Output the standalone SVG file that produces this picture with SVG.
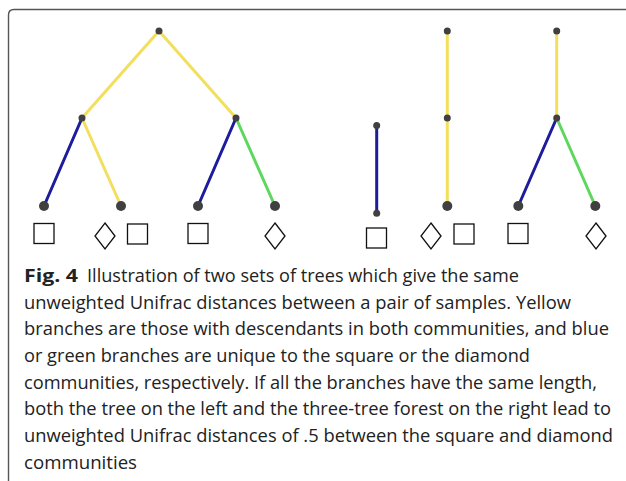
<svg xmlns="http://www.w3.org/2000/svg" width="626" height="481" viewBox="0 0 626 481">
<style>
.frame{fill:none;stroke:#555;stroke-width:1.4}
.y{stroke:#f2df5e;stroke-width:3;stroke-linecap:round}
.b{stroke:#1c1c9c;stroke-width:3;stroke-linecap:round}
.g{stroke:#5cd85c;stroke-width:3;stroke-linecap:round}
.n{fill:#404040}
.sq,.dm{fill:#fff;stroke:#111;stroke-width:1.3}
.cap{font-family:"Open Sans","Noto Sans","Liberation Sans",sans-serif;font-size:18px;fill:#222}
.bold{font-weight:bold}
</style>
<rect width="626" height="481" fill="#fff"/>
<path class="frame" d="M8.5,481 V15 Q8.5,9.5 14,9.5 H626"/>
<g id="connectors">
<line class="y" x1="159" y1="31" x2="82" y2="118"/>
<line class="y" x1="159" y1="31" x2="236" y2="118"/>
<line class="b" x1="82" y1="118" x2="44" y2="206"/>
<line class="y" x1="82" y1="118" x2="121" y2="206"/>
<line class="b" x1="236" y1="118" x2="198" y2="206"/>
<line class="g" x1="236" y1="118" x2="275" y2="206"/>
<line class="b" x1="376.7" y1="125.5" x2="376.7" y2="213.3"/>
<line class="y" x1="447.3" y1="31" x2="447.3" y2="118"/>
<line class="y" x1="447.3" y1="118" x2="447.3" y2="206"/>
<line class="y" x1="556.7" y1="31" x2="556.7" y2="118"/>
<line class="b" x1="556.7" y1="118" x2="518.3" y2="206"/>
<line class="g" x1="556.7" y1="118" x2="595.3" y2="206"/>
</g>
<g id="tree1-root"><circle class="n" cx="159" cy="31" r="3.5"/></g>
<g id="tree1-left"><circle class="n" cx="82" cy="118" r="3.5"/></g>
<g id="tree1-right"><circle class="n" cx="236" cy="118" r="3.5"/></g>
<g id="leaf1"><circle class="n" cx="44" cy="206" r="5"/><rect class="sq" x="34" y="223.5" width="20" height="20"/></g>
<g id="leaf2"><circle class="n" cx="121" cy="206" r="5"/><path class="dm" d="M105,223 L115,236 L105,249 L95,236 Z"/><rect class="sq" x="127.5" y="224" width="20" height="20"/></g>
<g id="leaf3"><circle class="n" cx="198" cy="206" r="5"/><rect class="sq" x="188" y="223.5" width="20" height="20"/></g>
<g id="leaf4"><circle class="n" cx="275" cy="206" r="5"/><path class="dm" d="M275,223 L285,236 L275,249 L265,236 Z"/></g>
<g id="tree2-top"><circle class="n" cx="376.7" cy="125.5" r="3.5"/></g>
<g id="tree2-leaf"><circle class="n" cx="376.7" cy="213.3" r="3.5"/><rect class="sq" x="366.5" y="228" width="20" height="20"/></g>
<g id="tree3-top"><circle class="n" cx="447.3" cy="31" r="3.5"/></g>
<g id="tree3-mid"><circle class="n" cx="447.3" cy="118" r="3.5"/></g>
<g id="tree3-leaf"><circle class="n" cx="447.3" cy="206" r="5"/><path class="dm" d="M431,223 L441,236 L431,249 L421,236 Z"/><rect class="sq" x="454" y="224" width="20" height="20"/></g>
<g id="tree4-top"><circle class="n" cx="556.7" cy="31" r="3.5"/></g>
<g id="tree4-mid"><circle class="n" cx="556.7" cy="118" r="3.5"/></g>
<g id="tree4-leafL"><circle class="n" cx="518.3" cy="206" r="5"/><rect class="sq" x="508" y="223.5" width="20" height="20"/></g>
<g id="tree4-leafR"><circle class="n" cx="595.3" cy="206" r="5"/><path class="dm" d="M596,223 L606,236 L596,249 L586,236 Z"/></g>
<g id="caption" class="cap">
<text x="24" y="282" class="bold" textLength="54" lengthAdjust="spacingAndGlyphs">Fig. 4</text>
<text x="87" y="282" textLength="432" lengthAdjust="spacingAndGlyphs">Illustration of two sets of trees which give the same</text>
<text x="24" y="308.6" textLength="547" lengthAdjust="spacingAndGlyphs">unweighted Unifrac distances between a pair of samples. Yellow</text>
<text x="24" y="335.3" textLength="585" lengthAdjust="spacingAndGlyphs">branches are those with descendants in both communities, and blue</text>
<text x="24" y="362" textLength="506" lengthAdjust="spacingAndGlyphs">or green branches are unique to the square or the diamond</text>
<text x="24" y="388.6" textLength="573" lengthAdjust="spacingAndGlyphs">communities, respectively. If all the branches have the same length,</text>
<text x="24" y="415.3" textLength="587" lengthAdjust="spacingAndGlyphs">both the tree on the left and the three-tree forest on the right lead to</text>
<text x="24" y="442" textLength="589" lengthAdjust="spacingAndGlyphs">unweighted Unifrac distances of .5 between the square and diamond</text>
<text x="24" y="468.6" textLength="113" lengthAdjust="spacingAndGlyphs">communities</text>
</g>
</svg>
